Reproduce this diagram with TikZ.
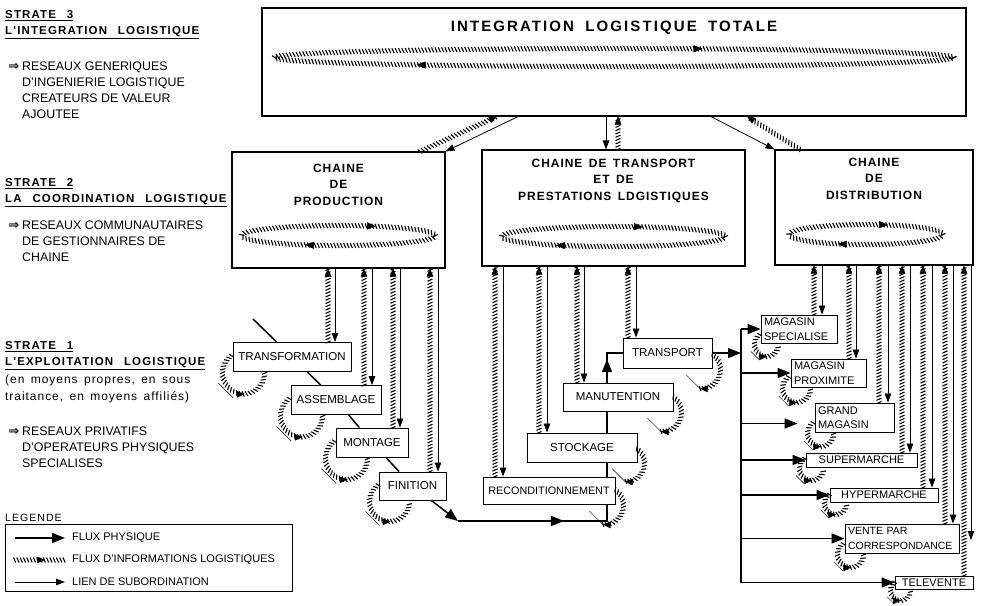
\documentclass[tikz,border=0pt]{standalone}
\usepackage{fontspec}
\setmainfont{Liberation Sans}
\newfontfamily\symbfont{DejaVu Sans}
\newfontfamily\headfam{Liberation Sans}[LetterSpace=10,WordSpace=2.5]
\newfontfamily\chainfam{Liberation Sans}[LetterSpace=8,WordSpace=1.8]
\newfontfamily\titlefam{Liberation Sans}[LetterSpace=14,WordSpace=1.8]
\newfontfamily\parfam{Liberation Sans}[LetterSpace=8,WordSpace=1.5]
\usetikzlibrary{positioning,calc,decorations.markings,arrows.meta}

\newcommand{\txtfont}{\fontsize{12.4}{16}\selectfont}
\newcommand{\parfont}{\parfam\fontsize{12}{17}\selectfont}
\newcommand{\headfont}{\headfam\bfseries\fontsize{11.5}{16}\selectfont}
\newcommand{\chainfont}{\chainfam\bfseries\fontsize{12}{16.5}\selectfont}
\newcommand{\titlefont}{\titlefam\bfseries\fontsize{15}{16}\selectfont}
\newcommand{\opfont}{\fontsize{11.5}{13}\selectfont}
\newcommand{\shopfont}{\fontsize{11}{14.5}\selectfont}
\newcommand{\legfont}{\fontsize{11}{13}\selectfont}
\newcommand{\imp}{\llap{{\symbfont\bfseries\fontsize{13}{13}\selectfont ⇒}\hspace{3pt}}}

% loop of information flow at the lower left / lower right corner of a box
\newcommand{\lloop}[3]{%
  \draw[infomid=.63] ($(#1.south west)+(#2,1)$) ++(235:#3) arc[start angle=235, end angle=0, radius=#3];
  \draw[thin] ($(#1.south west)+(#2,1)+(135:{#3+4})+(45:{#3*.5})$) -- ++(225:#3);}
\newcommand{\rloop}[3]{%
  \draw[infoend] ($(#1.south east)+(-#2,1)$) ++(-55:#3) arc[start angle=-55, end angle=95, radius=#3];
  \draw[thin] ($(#1.south east)+(-#2,1)+(95:#3)$) -- ++(225:#3);}

\tikzset{
  info/.style={draw=none, postaction={decorate, decoration={markings,
      mark=between positions 0 and 1 step 3.3pt with {\draw[line width=1.1pt] (-1.1pt,2.5pt) -- (1.1pt,-2.5pt);}}}},
  infoend/.style={info, postaction={decorate, decoration={markings,
      mark=at position 1 with {\arrow{Triangle[length=8pt,width=6.5pt]}}}}},
  infomid/.style={info, postaction={decorate, decoration={markings,
      mark=at position #1 with {\arrow{Triangle[length=8pt,width=6.5pt]}}}}},
  infocycle/.style 2 args={info, postaction={decorate, decoration={markings,
      mark=at position #1 with {\arrow{Triangle[length=9pt,width=7pt]}},
      mark=at position #2 with {\arrow{Triangle[length=9pt,width=7pt]}}}}},
  phys/.style={line width=1.5pt, -{Triangle[length=13pt,width=10pt]}},
  physline/.style={line width=1.5pt},
  midphys/.style={line width=1.5pt, postaction={decorate, decoration={markings,
      mark=at position #1 with {\arrow{Triangle[length=13pt,width=10pt]}}}}},
  sub/.style={line width=.8pt, -{Triangle[length=9pt,width=6.5pt]}},
  chainbox/.style={draw, line width=1.1pt, fill=white},
  chaintitle/.style={font=\chainfont, align=center, inner sep=0pt},
  opbox/.style={draw, line width=.9pt, fill=white, minimum height=29, inner sep=1pt, font=\opfont},
  shopbox/.style={draw, line width=.9pt, fill=white, minimum height=28, inner xsep=3pt, inner ysep=1pt, font=\shopfont, align=left},
  headtext/.style={anchor=north west, inner sep=0pt, align=left, font=\headfont},
  bodytext/.style={anchor=north west, inner sep=0pt, align=left, font=\txtfont},
  legtext/.style={anchor=west, inner sep=0pt, font=\legfont},
}

\begin{document}
\begin{tikzpicture}[x=1pt, y=-1pt]
\useasboundingbox (0,0) rectangle (984,605);

% the three strata
\node[headtext] (s3) at (5,10) {\underline{STRATE 3}\\\underline{L'INTEGRATION LOGISTIQUE}};
\node[bodytext] (s3txt) at (22,62) {\imp RESEAUX GENERIQUES\\D'INGENIERIE LOGISTIQUE\\CREATEURS DE VALEUR\\AJOUTEE};
\node[headtext] (s2) at (5,178) {\underline{STRATE 2}\\\underline{LA COORDINATION LOGISTIQUE}};
\node[bodytext] (s2txt) at (22,221) {\imp RESEAUX COMMUNAUTAIRES\\DE GESTIONNAIRES DE\\CHAINE};
\node[headtext] (s1) at (5,341) {\underline{STRATE 1}\\\underline{L'EXPLOITATION LOGISTIQUE}};
\node[bodytext, font=\parfont] (s1par) at (5,375) {(en moyens propres, en sous\\traitance, en moyens affiliés)};
\node[bodytext] (s1txt) at (22,427) {\imp RESEAUX PRIVATIFS\\D'OPERATEURS PHYSIQUES\\SPECIALISES};

% strate 3 : integration
\node[chainbox, minimum width=704, minimum height=108] (TOP) at (614,62) {};
\node[chaintitle, font=\titlefont, below=13pt of TOP.north] (toptitle) {INTEGRATION LOGISTIQUE TOTALE};
\draw[infocycle={.395}{.815}] (TOP.south) ++(0,-59) ellipse [x radius=340, y radius=9];

% strate 2 : the chains
\node[chainbox, minimum width=213, minimum height=116] (PROD) at (338.5,210) {};
\node[chaintitle, below=12pt of PROD.north] {CHAINE\\DE\\PRODUCTION};
\draw[infocycle={.335}{.845}] (PROD.south) ++(0,-33) ellipse [x radius=97, y radius=10];

\node[chainbox, minimum width=263, minimum height=116] (TRANSP) at (613.5,208) {};
\node[chaintitle, below=9pt of TRANSP.north] {CHAINE DE TRANSPORT\\ET DE\\PRESTATIONS LDGISTIQUES};
\draw[infocycle={.377}{.815}] (TRANSP.south) ++(0,-30) ellipse [x radius=112, y radius=10];

\node[chainbox, minimum width=198, minimum height=115] (DISTR) at (874,207.5) {};
\node[chaintitle, below=8pt of DISTR.north] {CHAINE\\DE\\DISTRIBUTION};
\draw[infocycle={.34}{.82}] (DISTR.south) ++(-8,-31) ellipse [x radius=77, y radius=10];

\draw[infoend] (420,0 |- PROD.north) -- (497,0 |- TOP.south);
\draw[sub] (518,0 |- TOP.south) -- (PROD.north east);
\draw[sub] (606,0 |- TOP.south) -- (606,0 |- TRANSP.north);
\draw[infoend] (618,0 |- TRANSP.north) -- (618,0 |- TOP.south);
\draw[sub] (711,0 |- TOP.south) -- (DISTR.north west);
\draw[infoend] (800,0 |- DISTR.north) -- (747,0 |- TOP.south);

% strate 1 : operations
\node[opbox, minimum width=118] (transfo) at (292,357) {TRANSFORMATION};
\node[opbox, minimum width=90] (assemb) at (336,400) {ASSEMBLAGE};
\node[opbox, minimum width=72] (montage) at (372,442.5) {MONTAGE};
\node[opbox, minimum width=67, minimum height=28] (finition) at (412.5,486) {FINITION};

\node[opbox, minimum width=132, minimum height=27, font=\fontsize{10.8}{13}\selectfont] (recond) at (549,490.5) {RECONDITIONNEMENT};
\node[opbox, minimum width=110] (stock) at (582,447.5) {STOCKAGE};
\node[opbox, minimum width=110, minimum height=28] (manut) at (618,397) {MANUTENTION};
\node[opbox, minimum width=89, minimum height=30] (transport) at (667.5,353) {TRANSPORT};

\node[shopbox, text width=70] (magspec) at (799,329) {MAGASIN\\SPECIALISE};
\node[shopbox, text width=69] (magprox) at (828.5,373) {MAGASIN\\PROXIMITE};
\node[shopbox, text width=73, minimum height=29] (grandmag) at (854.5,417.5) {GRAND\\MAGASIN};
\node[opbox, minimum width=111, minimum height=14, inner ysep=0pt, font=\shopfont] (supermarche) at (861.5,460) {SUPERMARCHE};
\node[opbox, minimum width=108, minimum height=14, inner ysep=0pt, font=\shopfont] (hypermarche) at (884,495) {HYPERMARCHE};
\node[shopbox, text width=108, minimum height=29, font=\fontsize{10.5}{14.5}\selectfont] (vpc) at (902,538.5) {VENTE PAR\\CORRESPONDANCE};
\node[opbox, minimum width=78, minimum height=13, inner ysep=0pt, font=\shopfont] (televente) at (934,582.5) {TELEVENTE};

% physical flow
\coordinate (pstart) at (253,319);
\coordinate (bend1) at (458,521);
\coordinate (bend2) at (607,521);
\coordinate (bend3) at (607,353);
\coordinate (bus) at (741,0);
\draw[physline] (pstart) -- (transfo);
\draw[physline] (transfo) -- (assemb);
\draw[physline] (assemb) -- (montage);
\draw[physline] (montage) -- (finition);
\draw[phys] (finition) -- (bend1);
\draw[midphys=.64] (bend1) -- (bend2) -- (recond.south -| bend2);
\draw[physline] (recond.north -| bend2) -- (stock.south -| bend2);
\draw[physline] (stock.north -| bend2) -- (manut.south -| bend2);
\draw[midphys=.52] (manut.north -| bend3) -- (bend3) -- (transport.west);
\draw[phys] (transport.east) -- (transport.east -| bus);
\draw[physline] (magspec.west -| bus) -- (televente.west -| bus);
\foreach \shop in {magspec,magprox,supermarche,hypermarche,vpc,televente}
  \draw[phys] (\shop.west -| bus) -- (\shop.west);
\coordinate (gmin) at ($(grandmag.west)+(-17,6)$);
\draw[phys] (gmin -| bus) -- (gmin);

% information flow up, subordination down
\foreach \xi/\xs/\op in {328/335/transfo,364/372/assemb,393/400/montage,430/438/finition}{
  \draw[infoend] (\xi,0 |- \op.north) -- (\xi,0 |- PROD.south);
  \draw[sub] (\xs,0 |- PROD.south) -- (\xs,0 |- \op.north);}
\foreach \xi/\xs/\op in {495/503/recond,539/547/stock,577/584/manut,628/636/transport}{
  \draw[infoend] (\xi,0 |- \op.north) -- (\xi,0 |- TRANSP.south);
  \draw[sub] (\xs,0 |- TRANSP.south) -- (\xs,0 |- \op.north);}
\foreach \xi/\xs/\op in {814/822/magspec,849/856/magprox,879/888/grandmag,902/910/supermarche,923/932/hypermarche,945/953/vpc}{
  \draw[infoend] (\xi,0 |- \op.north) -- (\xi,0 |- DISTR.south);
  \draw[sub] (\xs,0 |- DISTR.south) -- (\xs,0 |- \op.north);}
\coordinate (telend) at (971,540);
\draw[infoend] (964,0 |- televente.north) -- (964,0 |- DISTR.south);
\draw[sub] (971,0 |- DISTR.south) -- (telend);

% loops
\lloop{transfo}{11}{21}
\lloop{assemb}{11}{21}
\lloop{montage}{11}{21}
\lloop{finition}{11}{20}
\rloop{transport}{11}{19}
\rloop{manut}{11}{19}
\rloop{stock}{11}{18}
\rloop{recond}{11}{19}
\lloop{magspec}{6}{12}
\lloop{magprox}{6}{14}
\lloop{grandmag}{6}{13}
\lloop{supermarche}{6}{12}
\lloop{hypermarche}{6}{11}
\lloop{vpc}{6}{13}
\lloop{televente}{6}{10}

% legend
\node[anchor=base west, inner sep=0pt, font=\headfam\fontsize{10.5}{13}\selectfont] (legtitle) at (5,521) {LEGENDE};
\node[draw, line width=.8pt, minimum width=287, minimum height=67, inner sep=0pt] (legend) at (148.5,557.5) {};
\node[legtext] (lphys) at (72,538) {FLUX PHYSIQUE};
\node[legtext] (linfo) at (72,560) {FLUX D'INFORMATIONS LOGISTIQUES};
\node[legtext] (lsub) at (72,582) {LIEN DE SUBORDINATION};
\draw[phys, shorten >=7pt] (legend.west |- lphys.west) ++(10,0) -- (lphys.west);
\draw[infomid=.6] (legend.west |- linfo.west) ++(10,0) -- ($(linfo.west)+(-7,0)$);
\draw[sub, shorten >=7pt] (legend.west |- lsub.west) ++(10,0) -- (lsub.west);
\end{tikzpicture}
\end{document}
